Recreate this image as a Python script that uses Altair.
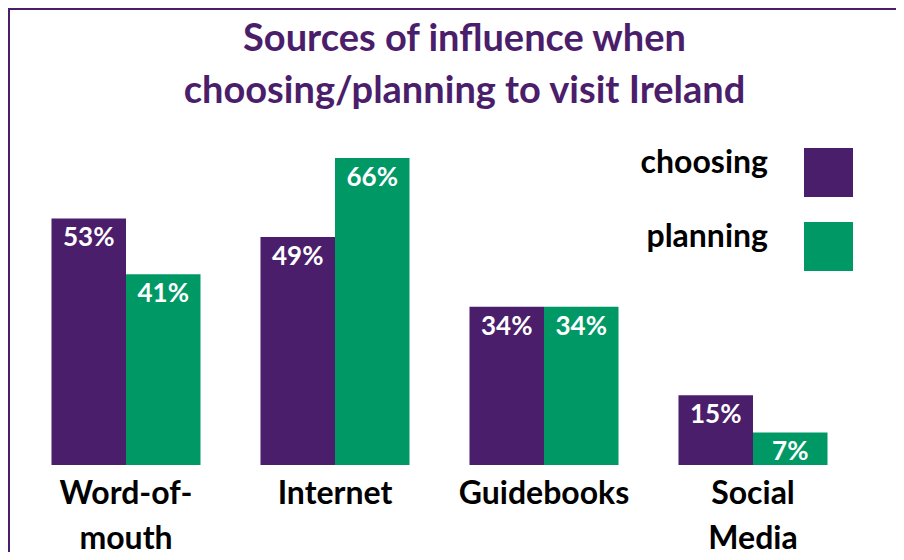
import altair as alt
import pandas as pd

categories = ["Word-of-|mouth", "Internet", "Guidebooks", "Social|Media"]
series = ["choosing", "planning"]
choosing = [53, 49, 34, 15]
planning = [41, 66, 34, 7]
title_lines = "Sources of influence when\nchoosing/planning to visit Ireland"

PURPLE = "#4b1e6b"
GREEN = "#009966"
FONT = "Lato"

rows = []
for c, a, b in zip(categories, choosing, planning):
    rows.append({"source": c, "series": "choosing", "value": a})
    rows.append({"source": c, "series": "planning", "value": b})
df = pd.DataFrame(rows)
df["label"] = df["value"].astype(str) + "%"

x_enc = alt.X("source:N", sort=categories,
              scale=alt.Scale(paddingInner=0.287, paddingOuter=0.1435),
              axis=alt.Axis(title=None, labelAngle=0, ticks=False, domain=False,
                            labelFont=FONT, labelFontWeight="bold", labelFontSize=32,
                            labelColor="#000000", labelPadding=13, labelLineHeight=45,
                            labelExpr="split(datum.label, '|')"))
xo = alt.XOffset("series:N", sort=series, scale=alt.Scale(paddingInner=0, paddingOuter=0))
y_enc = alt.Y("value:Q", scale=alt.Scale(domain=[0, 72]), axis=None)

bars = alt.Chart(df).mark_bar().encode(
    x=x_enc, xOffset=xo, y=y_enc,
    color=alt.Color("series:N", sort=series,
                    scale=alt.Scale(domain=series, range=[PURPLE, GREEN]),
                    legend=alt.Legend(title=None, orient="none", legendX=782.5, legendY=18,
                                      symbolType="square", symbolSize=2401,
                                      symbolStrokeWidth=0, symbolOpacity=1,
                                      labelAlign="right", labelOffset=alt.ExprRef("-85"),
                                      labelBaseline="alphabetic",
                                      labelFont=FONT, labelFontWeight="bold",
                                      labelFontSize=32, labelColor="#000000",
                                      rowPadding=23, labelLimit=300)),
)

labels = alt.Chart(df).mark_text(color="white", font=FONT, fontWeight="bold",
                                 fontSize=26, baseline="middle", dy=20).encode(
    x=x_enc, xOffset=xo, y=y_enc, text="label:N")

title = alt.Chart(pd.DataFrame({"t": [title_lines]})).mark_text(
    font=FONT, fontWeight="bold", fontSize=38, color=PURPLE, lineBreak="\n",
    lineHeight=52, baseline="alphabetic", align="center").encode(
    x=alt.value(443), y=alt.value(-79), text="t:N")

border = alt.Chart(pd.DataFrame({"b": [1]})).mark_rect(
    filled=False, stroke=PURPLE, strokeWidth=2).encode(
    x=alt.value(-12.5), y=alt.value(-121), x2=alt.value(900), y2=alt.value(500))

chart = alt.layer(border, bars, labels, title).properties(
    width=836, height=335,
    autosize=alt.AutoSizeParams(type="none"),
    padding={"left": 13.5, "top": 122, "right": 38.5, "bottom": 87},
).configure_view(stroke=None)

chart.save("out.html", embed_options={"renderer": "svg", "actions": False})
